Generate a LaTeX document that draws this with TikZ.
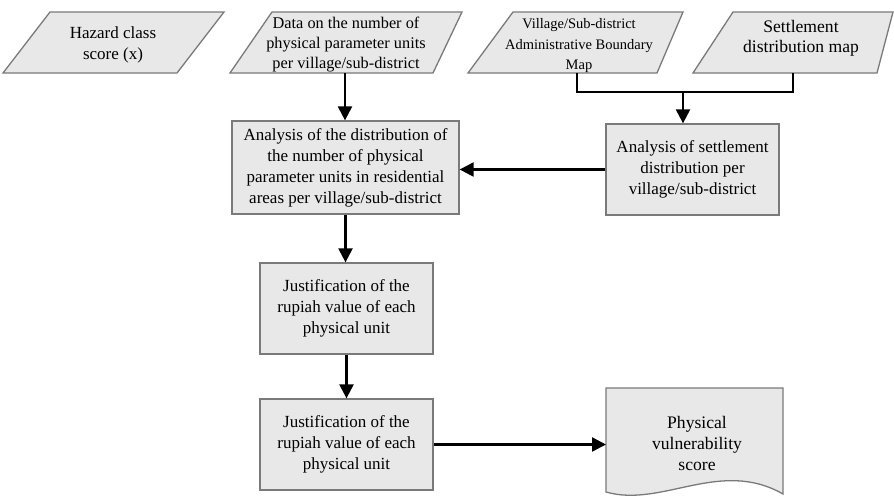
\documentclass[tikz,border=0pt]{standalone}
\usepackage{fontspec}
\setmainfont{Liberation Serif}
\usetikzlibrary{arrows.meta,calc}

\definecolor{shapefill}{HTML}{E8E8E8}
\definecolor{shapeline}{HTML}{7A7A7A}

\tikzset{
  shapebody/.style={fill=shapefill, draw=shapeline, line width=1.3pt, line join=miter},
  label17/.style={align=center, inner sep=0pt, font=\fontsize{17}{21}\selectfont},
  procbox/.style={shapebody, label17, inner sep=0pt},
  flow/.style={draw=black, line width=2.3pt, -{Triangle[width=14pt,length=14pt]}},
  link/.style={draw=black, line width=1.8pt},
}

\begin{document}
\begin{tikzpicture}[x=1pt,y=-1pt]
\useasboundingbox (0,0) rectangle (894,498);

% input data (parallelograms)
\path[shapebody] (50,12) -- (224,12) -- (177,73) -- (3,73) -- cycle;
\path[shapebody] (272,12) -- (462,12) -- (433,73) -- (230,73) -- cycle;
\path[shapebody] (513,12) -- (683,12) -- (657,73) -- (468,73) -- cycle;
\path[shapebody] (733,12) -- (893,12) -- (877,73) -- (693,73) -- cycle;

\node[label17] (haz) at (113,45) {Hazard class\\score (x)};
\node[label17, font=\fontsize{16.3}{20}\selectfont] (dat) at (346,45) {Data on the number of\\physical parameter units\\per village/sub-district};
\node[label17, font=\fontsize{14.5}{20.5}\selectfont] (vil) at (579,46) {Village/Sub-district\\Administrative Boundary\\Map};
\node[label17, font=\fontsize{17.6}{20}\selectfont] (stl) at (801,38) {Settlement\\distribution map};

\coordinate (datB) at (345,73);
\coordinate (vilB) at (577,73);
\coordinate (stlB) at (793,73);
\coordinate (join) at (683,92);

% processing steps
\node[procbox, minimum width=227, minimum height=93] (ana) at (345.5,167.5)
  {Analysis of the distribution of\\the number of physical\\parameter units in residential\\areas per village/sub-district};
\node[procbox, minimum width=173, minimum height=91] (set) at (692.5,169.5)
  {Analysis of settlement\\distribution per\\village/sub-district};
\node[procbox, minimum width=173, minimum height=91] (j1) at (346.5,308.5)
  {Justification of the\\rupiah value of each\\physical unit};
\node[procbox, minimum width=173, minimum height=91] (j2) at (346.5,444.5)
  {Justification of the\\rupiah value of each\\physical unit};

% output document
\path[shapebody] (606,388) -- (783,388) -- (783,494)
  .. controls (720,458) and (662,508) .. (606,492) -- cycle;
\node[label17, font=\fontsize{17.6}{21}\selectfont] (doc) at (697,443) {Physical\\vulnerability\\score};
\coordinate (docW) at (606,444);

% connectors
\draw[flow] (datB) -- (datB |- ana.north);
\draw[link] (vilB) -- (vilB |- join) -- (stlB |- join) -- (stlB);
\draw[flow] (join) -- (join |- set.north);
\draw[flow] (set.west) -- (set.west -| ana.east);
\draw[flow] (ana.south) -- (ana.south |- j1.north);
\draw[flow] (j1.south) -- (j1.south |- j2.north);
\draw[flow] (j2.east) -- (j2.east -| docW);
\end{tikzpicture}
\end{document}
